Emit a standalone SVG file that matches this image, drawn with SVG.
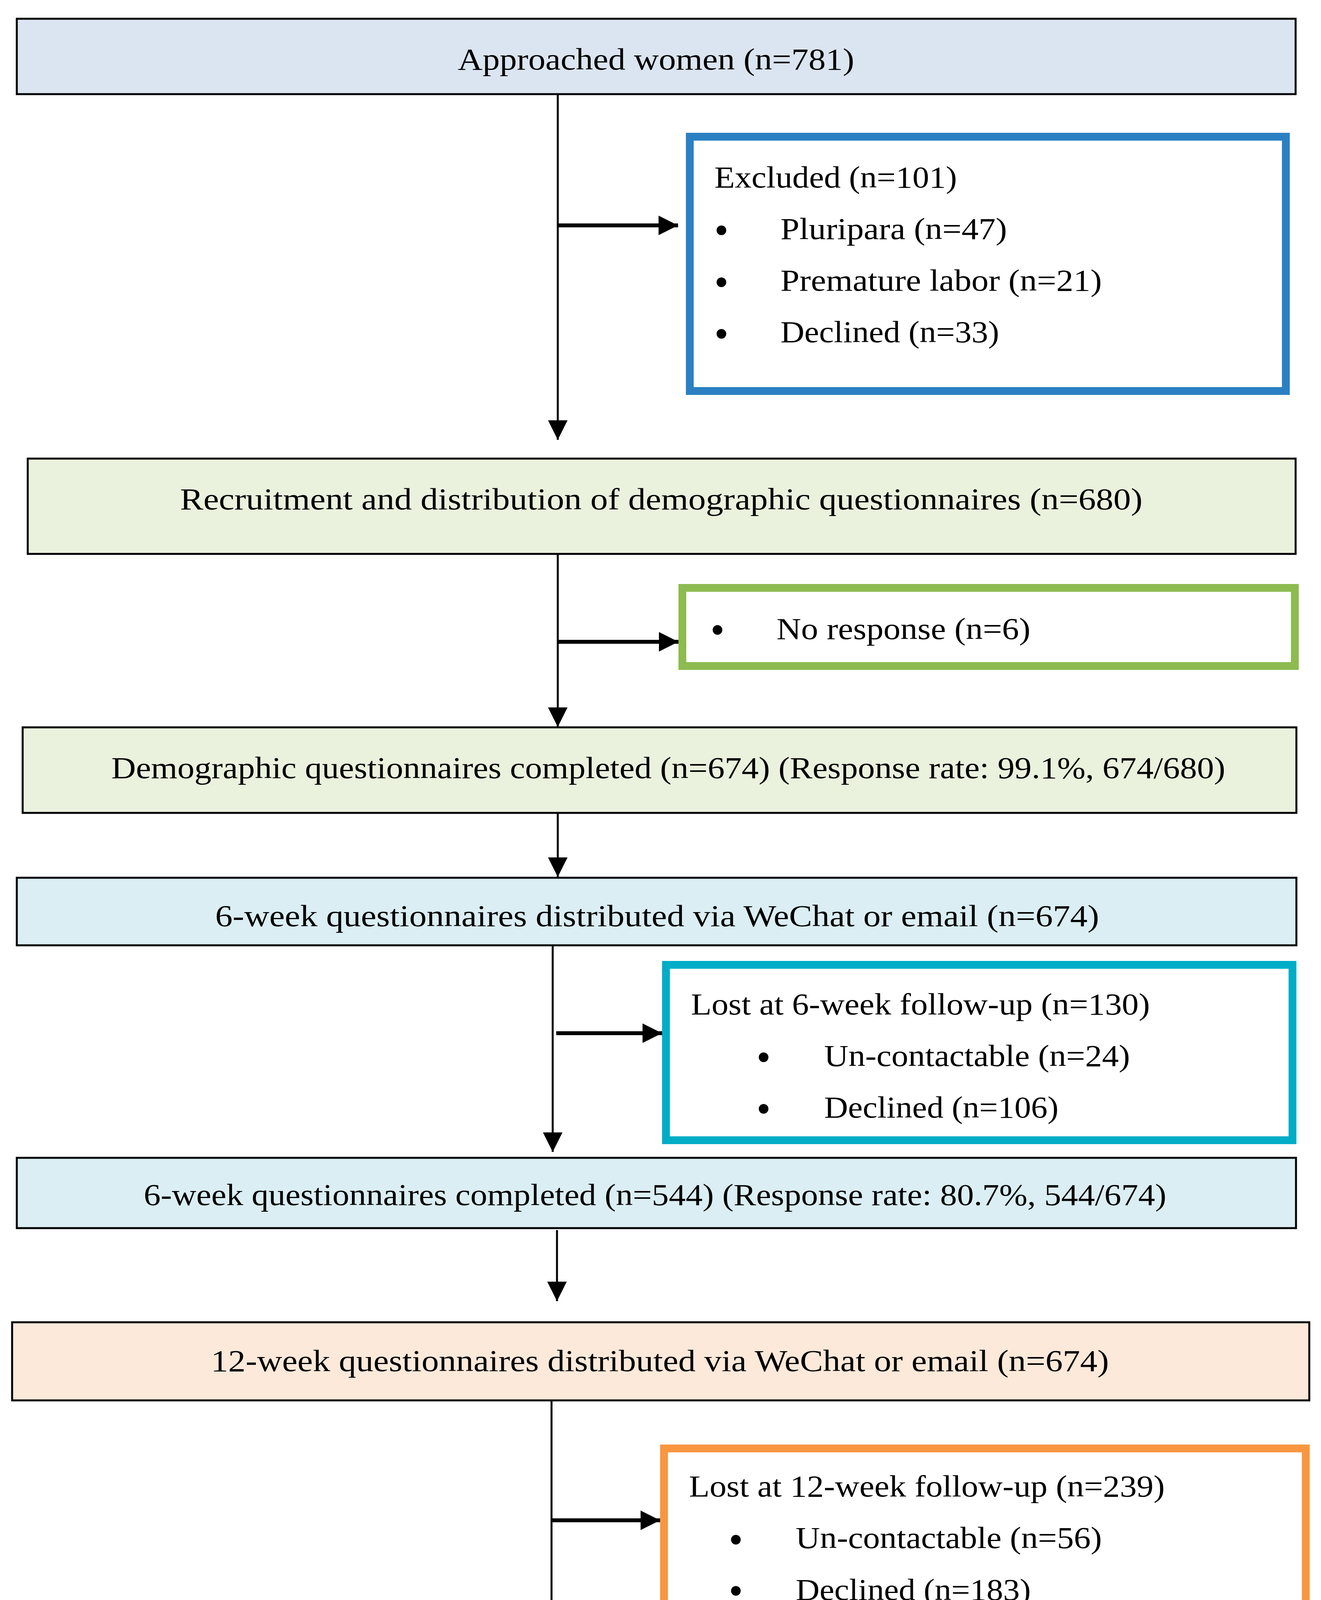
<svg xmlns="http://www.w3.org/2000/svg" width="3382" height="4555" viewBox="0 0 3382 4555">
<style>
.t{font-family:"Liberation Serif","DejaVu Serif",serif;font-size:78px;fill:#000}
.b{font-family:"Liberation Serif","DejaVu Serif",serif;font-size:104px;fill:#000;text-anchor:middle}
.box{stroke:#000;stroke-width:5}
.side{fill:#fff;stroke-width:20}
.ln{stroke:#000;stroke-width:5;fill:none}
.lh{stroke:#000;stroke-width:10;fill:none}
</style>
<defs>
<marker id="ah" viewBox="0 0 50 50" refX="50" refY="25" markerWidth="50" markerHeight="50" markerUnits="userSpaceOnUse" orient="auto">
<path d="M0,0 L50,25 L0,50 z" fill="#000"/>
</marker>
</defs>
<rect width="3382" height="4555" fill="#fff"/>

<g id="connectors">
<line class="ln" x1="1428" y1="241" x2="1428" y2="1126" marker-end="url(#ah)"/>
<line class="lh" x1="1428" y1="577" x2="1736" y2="577" marker-end="url(#ah)"/>
<line class="ln" x1="1428" y1="1418" x2="1428" y2="1861" marker-end="url(#ah)"/>
<line class="lh" x1="1428" y1="1643" x2="1737" y2="1643" marker-end="url(#ah)"/>
<line class="ln" x1="1428" y1="2081" x2="1428" y2="2245" marker-end="url(#ah)"/>
<line class="ln" x1="1415" y1="2420" x2="1415" y2="2949" marker-end="url(#ah)"/>
<line class="lh" x1="1424" y1="2645" x2="1695" y2="2645" marker-end="url(#ah)"/>
<line class="ln" x1="1426" y1="3149" x2="1426" y2="3331" marker-end="url(#ah)"/>
<line class="ln" x1="1412" y1="3585" x2="1412" y2="4300" marker-end="url(#ah)"/>
<line class="lh" x1="1412" y1="3892" x2="1690" y2="3892" marker-end="url(#ah)"/>
</g>

<g id="approached">
<rect class="box" x="43" y="48" width="3274" height="193" fill="#DBE5F1"/>
<text class="t" x="1172" y="178" textLength="1015" lengthAdjust="spacingAndGlyphs">Approached women (n=781)</text>
</g>

<g id="excluded">
<rect class="side" x="1766" y="350" width="1526" height="651" stroke="#2A80C2"/>
<text class="t" x="1829" y="480" textLength="621" lengthAdjust="spacingAndGlyphs">Excluded (n=101)</text>
<text class="b" x="1847" y="624">•</text>
<text class="t" x="1998" y="612" textLength="580" lengthAdjust="spacingAndGlyphs">Pluripara (n=47)</text>
<text class="b" x="1847" y="757">•</text>
<text class="t" x="1998" y="744" textLength="823" lengthAdjust="spacingAndGlyphs">Premature labor (n=21)</text>
<text class="b" x="1847" y="889">•</text>
<text class="t" x="1998" y="876" textLength="560" lengthAdjust="spacingAndGlyphs">Declined (n=33)</text>
</g>

<g id="recruitment">
<rect class="box" x="71" y="1174" width="3246" height="244" fill="#EAF1DD"/>
<text class="t" x="461" y="1304" textLength="2464" lengthAdjust="spacingAndGlyphs">Recruitment and distribution of demographic questionnaires (n=680)</text>
</g>

<g id="noresponse">
<rect class="side" x="1747" y="1505" width="1568" height="200" stroke="#8DBB50"/>
<text class="b" x="1837" y="1647">•</text>
<text class="t" x="1988" y="1636" textLength="650" lengthAdjust="spacingAndGlyphs">No response (n=6)</text>
</g>

<g id="democompleted">
<rect class="box" x="58" y="1862" width="3261" height="219" fill="#EAF1DD"/>
<text class="t" x="285" y="1992" textLength="2852" lengthAdjust="spacingAndGlyphs">Demographic questionnaires completed (n=674) (Response rate: 99.1%, 674/680)</text>
</g>

<g id="week6dist">
<rect class="box" x="43" y="2247" width="3276" height="173" fill="#DAEEF3"/>
<text class="t" x="551" y="2371" textLength="2263" lengthAdjust="spacingAndGlyphs">6-week questionnaires distributed via WeChat or email (n=674)</text>
</g>

<g id="lost6">
<rect class="side" x="1705" y="2470" width="1604" height="449" stroke="#00ADC7"/>
<text class="t" x="1769" y="2597" textLength="1175" lengthAdjust="spacingAndGlyphs">Lost at 6-week follow-up (n=130)</text>
<text class="b" x="1955" y="2741">•</text>
<text class="t" x="2110" y="2729" textLength="783" lengthAdjust="spacingAndGlyphs">Un-contactable (n=24)</text>
<text class="b" x="1955" y="2873">•</text>
<text class="t" x="2110" y="2861" textLength="600" lengthAdjust="spacingAndGlyphs">Declined (n=106)</text>
</g>

<g id="week6done">
<rect class="box" x="43" y="2964" width="3275" height="180" fill="#DAEEF3"/>
<text class="t" x="368" y="3085" textLength="2618" lengthAdjust="spacingAndGlyphs">6-week questionnaires completed (n=544) (Response rate: 80.7%, 544/674)</text>
</g>

<g id="week12dist">
<rect class="box" x="31" y="3385" width="3321" height="200" fill="#FDE9D9"/>
<text class="t" x="540" y="3510" textLength="2299" lengthAdjust="spacingAndGlyphs">12-week questionnaires distributed via WeChat or email (n=674)</text>
</g>

<g id="lost12">
<rect class="side" x="1700" y="3708" width="1643" height="435" stroke="#F9963F"/>
<text class="t" x="1764" y="3831" textLength="1218" lengthAdjust="spacingAndGlyphs">Lost at 12-week follow-up (n=239)</text>
<text class="b" x="1884" y="3976">•</text>
<text class="t" x="2037" y="3963" textLength="784" lengthAdjust="spacingAndGlyphs">Un-contactable (n=56)</text>
<text class="b" x="1884" y="4107">•</text>
<text class="t" x="2037" y="4096" textLength="602" lengthAdjust="spacingAndGlyphs">Declined (n=183)</text>
</g>

<g id="week12done">
<rect class="box" x="42" y="4335" width="3308" height="177" fill="#FDE9D9"/>
<text class="t" x="367" y="4457" textLength="2657" lengthAdjust="spacingAndGlyphs">12-week questionnaires completed (n=435) (Response rate: 64.5%, 435/674)</text>
</g>
</svg>
